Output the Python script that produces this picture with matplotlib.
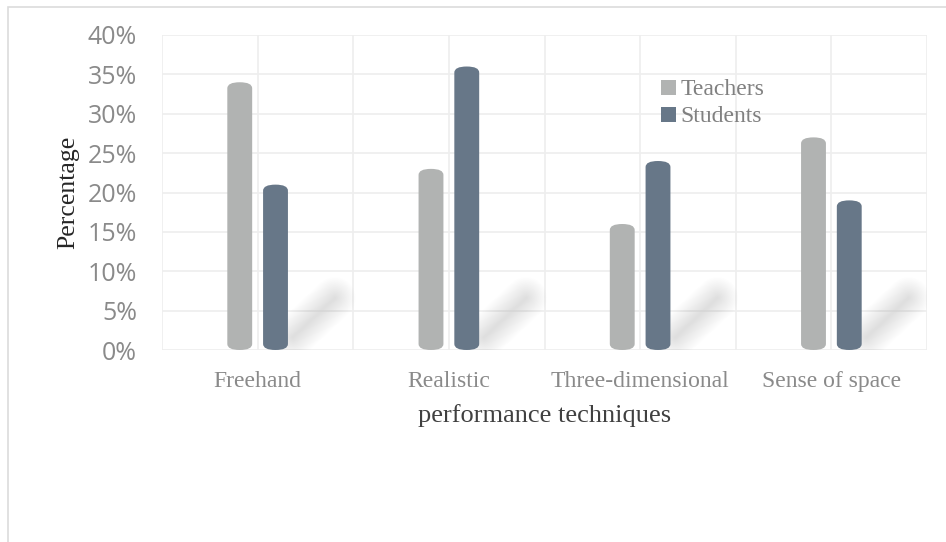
import numpy as np
import matplotlib
matplotlib.use("Agg")
from matplotlib import pyplot as plt
from matplotlib.patches import FancyBboxPatch, Patch, Rectangle

# data
categories = ["Freehand", "Realistic", "Three-dimensional", "Sense of space"]
teachers = [34, 23, 16, 27]
students = [21, 36, 24, 19]
series_names = ["Teachers", "Students"]
yticks = [0, 5, 10, 15, 20, 25, 30, 35, 40]

teacher_color = "#b1b3b2"
student_color = "#677788"
serif = ["Liberation Serif", "DejaVu Serif"]

W, H = 946, 542
fig = plt.figure(figsize=(W / 100, H / 100), dpi=100)

# light frame around the chart area
fig.patches.append(Rectangle((8 / W, -0.1), 1.2, (H - 7) / H + 0.1,
                             transform=fig.transFigure, fill=False,
                             edgecolor="#dcdcdc", linewidth=1.2))

ax = fig.add_axes([162 / W, (H - 350) / H, (927 - 162) / W, (350 - 35) / H])
ax.set_xlim(-0.5, 3.5)
ax.set_ylim(0, 40)

# grid
for gx in np.arange(-0.5, 3.51, 0.5):
    ax.axvline(gx, color="#eeeeee", linewidth=1.2, zorder=0)
for gy in yticks:
    ax.axhline(gy, color="#eeeeee", linewidth=1.2, zorder=0)

for s in ax.spines.values():
    s.set_visible(False)

bar_w = 0.13
gap = 0.057
# pixels per data unit, used to keep the rounded caps elliptical
px_y = (350 - 35) / 40.0
cap_px = 6.0
r = bar_w / 2
aspect = (cap_px / px_y) / r


def draw_bar(xc, val, color):
    p = FancyBboxPatch((xc - bar_w / 2, 0), bar_w, val,
                       boxstyle=f"round,pad=0,rounding_size={r}",
                       mutation_aspect=aspect,
                       facecolor=color, edgecolor="none", zorder=3)
    ax.add_patch(p)


x = np.arange(len(categories))
for i in range(len(categories)):
    xt = x[i] - (bar_w + gap) / 2
    xs = x[i] + (bar_w + gap) / 2
    draw_bar(xt, teachers[i], teacher_color)
    draw_bar(xs, students[i], student_color)
    # soft diagonal shadow behind each group
    for lw in np.linspace(30, 2, 16):
        ax.plot([xs + 0.09, xs + 0.31], [1.6, 6.6], color="#8a8a8a",
                linewidth=lw, alpha=0.010, solid_capstyle="round", zorder=1)

ax.set_yticks(yticks)
ax.set_yticklabels([f"{v}%" for v in yticks], fontfamily="Open Sans",
                   fontsize=18, color="#8a8a8a")
ax.set_xticks(x)
ax.set_xticklabels(categories, fontfamily=serif, fontsize=17, color="#8a8a8a")
ax.tick_params(axis="both", length=0)
ax.tick_params(axis="y", pad=18)
ax.tick_params(axis="x", pad=15)

ax.set_xlabel("performance techniques", fontfamily=serif, fontsize=19,
              color="#404040", labelpad=9)
ax.set_ylabel("Percentage", fontfamily=serif, fontsize=18.5,
              color="#262626")
ax.yaxis.set_label_coords((79 - 162) / (927 - 162), 0.5)

handles = [Patch(facecolor=teacher_color, edgecolor="none"),
           Patch(facecolor=student_color, edgecolor="none")]
leg = fig.legend(handles, series_names, loc="upper left",
                 bbox_to_anchor=(652 / W, 1 - 70 / H), frameon=False,
                 prop={"family": serif, "size": 17},
                 handlelength=0.6, handleheight=0.6, handletextpad=0.2,
                 labelspacing=0.25, borderaxespad=0)
for t in leg.get_texts():
    t.set_color("#808080")

fig.savefig("out.png", dpi=100)
